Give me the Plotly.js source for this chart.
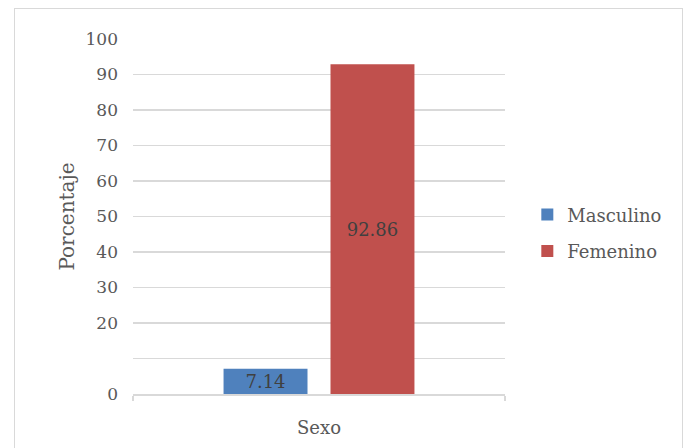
<!DOCTYPE html>
<html>
<head>
<meta charset="utf-8">
<script src="https://cdn.plot.ly/plotly-3.0.1.min.js"></script>
<style>
html,body{margin:0;padding:0;background:#fff;}
#wrap{position:relative;width:685px;height:448px;overflow:hidden;}
#chart{width:685px;height:448px;}
#frame{position:absolute;left:14px;top:8px;width:667px;height:480px;border:1.5px solid #d9d9d9;pointer-events:none;}
</style>
</head>
<body>
<div id="wrap"><div id="chart"></div><div id="frame"></div></div>
<script>
const categories = ["Sexo"];
const seriesNames = ["Masculino", "Femenino"];
const masculino = [7.14];
const femenino = [92.86];
const yTickVals = [0,10,20,30,40,50,60,70,80,90,100];
const yTickText = ["0","","20","30","40","50","60","70","80","90","100"];
const colors = ["#4F81BD", "#C0504D"];

const FONT = "DejaVu Serif, Cambria, serif";
const values = [masculino, femenino];

const traces = values.map((v, i) => ({
  type: "bar",
  name: seriesNames[i],
  x: categories,
  y: v,
  marker: {color: colors[i]},
  text: v.map(d => d.toFixed(2)),
  textposition: "inside",
  insidetextanchor: "middle",
  constraintext: "none",
  textfont: {family: FONT, size: 18, color: "#404040"},
  legendgroup: "g" + i,
  hoverinfo: "none"
}));

const layout = {
  width: 685, height: 448,
  margin: {l: 133, r: 180, t: 39, b: 54, autoexpand: false},
  paper_bgcolor: "#fff", plot_bgcolor: "#fff",
  font: {family: FONT, size: 17, color: "#595959"},
  barmode: "group",
  bargap: 0.425,
  bargroupgap: 0.215,
  showlegend: true,
  legend: {
    x: 1.06, xanchor: "left", y: 0.454, yanchor: "middle",
    font: {family: FONT, size: 18, color: "#595959"},
    traceorder: "grouped", tracegroupgap: 10,
    itemwidth: 30
  },
  xaxis: {
    type: "category",
    showgrid: false,
    showline: true, linecolor: "#d9d9d9", linewidth: 1.5,
    ticks: "outside", tickson: "boundaries", ticklen: 5, tickcolor: "#d9d9d9", tickwidth: 1.5,
    tickfont: {family: FONT, size: 18, color: "#595959"},
    ticklabelstandoff: 17,
    zeroline: false
  },
  yaxis: {
    range: [0, 100],
    tickvals: yTickVals, ticktext: yTickText,
    showgrid: true, gridcolor: "#d9d9d9", gridwidth: 1.5,
    showline: false, zeroline: false, ticks: "",
    tickfont: {family: FONT, size: 17, color: "#595959"},
    ticklabelstandoff: 14,
    title: {text: "Porcentaje", font: {family: FONT, size: 20, color: "#595959"}, standoff: 5}
  }
};

Plotly.newPlot("chart", traces, layout, {displayModeBar: false, staticPlot: true});
</script>
</body>
</html>
